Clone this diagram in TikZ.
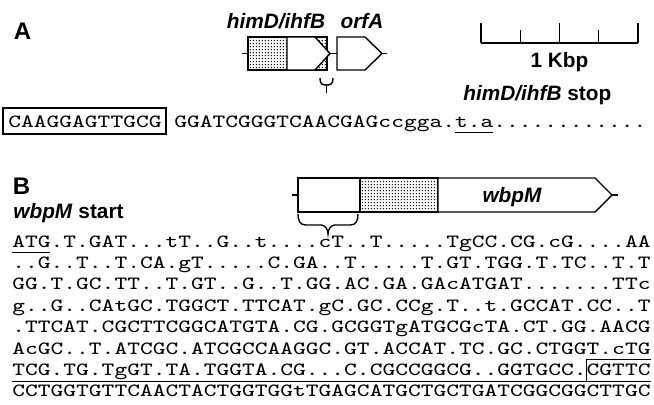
\documentclass[tikz,border=0pt]{standalone}
\usepackage{fontspec}
\setmainfont{Liberation Sans}
\newfontfamily\seqfont[FakeStretch=1.3]{Latin Modern Mono}
\usepackage{tikz}
\usetikzlibrary{patterns.meta}
% width of one sequence character
\newcommand{\cw}{6.3814pt}
\tikzdeclarepattern{
  name=stipple, type=uncolored,
  bottom left={(0pt,0pt)}, top right={(1.6pt,1.6pt)},
  tile size={(1.6pt,1.6pt)},
  code={\pgfpathcircle{\pgfqpoint{0.8pt}{0.8pt}}{0.45pt}\pgfusepath{fill}}
}
\tikzset{
  panel/.style={font=\fontsize{12}{14}\selectfont\bfseries, inner sep=0pt},
  genename/.style={font=\fontsize{10.4}{12}\selectfont\bfseries\itshape, inner sep=0pt},
  barlabel/.style={font=\fontsize{10.4}{12}\selectfont\bfseries, inner sep=0pt},
  seqline/.style={font=\seqfont\fontsize{9.35}{10}\selectfont, inner sep=0pt, anchor=base west},
  gene/.style={draw, line width=0.7pt, fill=white, line join=miter},
  stippled/.style={pattern=stipple, pattern color=black},
  link/.style={line width=0.7pt},
  uline/.style={line width=0.7pt},
  seqbox/.style={line width=0.9pt},
}
\begin{document}
\begin{tikzpicture}[x=0.5pt, y=-0.5pt]
  \useasboundingbox[fill=white] (0,0) rectangle (654,404);

  % --- panel A ---
  \node[panel] (A) at (22.5,31.5) {A};
  \node[genename, anchor=base] (himDlabel) at (276,28) {himD/ihfB};
  \node[genename, anchor=base] (orfAlabel) at (362,28) {orfA};

  \coordinate (Aleft) at (242,53.5);
  \coordinate (himDin) at (248,53.5);
  \coordinate (himDtip) at (330,53.5);
  \coordinate (orfAin) at (337,53.5);
  \coordinate (orfAtip) at (382,53.5);
  \coordinate (Aright) at (387,53.5);

  \fill[stippled] (248,37) rectangle (327,70);
  \draw[gene, fill=none] (248,37) rectangle (327,70);
  \draw[gene] (287,37) -- (315,37) -- (himDtip) -- (315,70) -- (287,70) -- cycle;
  \draw[gene] (337,37) -- (365,37) -- (orfAtip) -- (365,70) -- (337,70) -- cycle;

  \draw[link] (Aleft) -- (himDin);
  \draw[link] (himDtip) -- (orfAin);
  \draw[link] (orfAtip) -- (Aright);

  \draw[link] (320,78) .. controls (320,84) and (322,85) .. (326.5,85)
              .. controls (331,85) and (333,84) .. (333,78);
  \draw[link] (326.5,85) -- (326.5,93);

  % scale bar
  \coordinate (bar0) at (481,43);
  \coordinate (bar4) at (638,43);
  \draw[link] (bar0) -- (bar4);
  \foreach \k/\h in {0/20,1/13,2/20,3/13,4/20}
    \draw[link] ({481+39.25*\k},43) -- ++(0,-\h);
  \node[barlabel, anchor=base] (kbp) at (559.5,67) {1 Kbp};

  \node[barlabel, anchor=base west] (stopA) at (463,100) {\textit{himD/ihfB} stop};

  \node[seqline] (seqA) at (8,127) {CAAGGAGTTGCG GGATCGGGTCAACGAGccgga.t.a............};
  \draw[seqbox] ([xshift=-2.5pt, yshift=-3.5pt]seqA.base west)
    rectangle ([xshift=12*\cw+2.5pt, yshift=9.5pt]seqA.base west);
  \draw[uline] ([xshift=35*\cw, yshift=-2.75pt]seqA.base west)
    -- ([xshift=38*\cw, yshift=-2.75pt]seqA.base west);

  % --- panel B ---
  \node[panel] (B) at (21.5,186) {B};
  \node[barlabel, anchor=base west] (startB) at (13,218) {\textit{wbpM} start};

  \coordinate (Bleft) at (292,195);
  \coordinate (wbpMin) at (298,195);
  \coordinate (wbpMtip) at (612,195);
  \coordinate (Bright) at (618,195);

  \draw[gene] (298,178) rectangle (360,212);
  \fill[stippled] (360,178) rectangle (438,212);
  \draw[gene, fill=none] (360,178) rectangle (438,212);
  \draw[gene] (438,178) -- (595,178) -- (wbpMtip) -- (595,212) -- (438,212) -- cycle;
  \node[genename, anchor=base] (wbpMlabel) at (512,202.5) {wbpM};
  \draw[link] (Bleft) -- (wbpMin);
  \draw[link] (wbpMtip) -- (Bright);

  \draw[link] (298,214) .. controls (298,221) and (300,225) .. (306,225) -- (321,225)
    .. controls (325,225) and (328,229) .. (328,234)
    .. controls (328,229) and (331,225) .. (335,225) -- (350,225)
    .. controls (356,225) and (358,221) .. (358,214);

  % sequence lines
  \node[seqline] (l1) at (12,247.0) {ATG.T.GAT...tT..G..t....cT..T.....TgCC.CG.cG....AA};
  \node[seqline] (l2) at (12,268.4) {..G..T..T.CA.gT.....C.GA..T.....T.GT.TGG.T.TC..T.T};
  \node[seqline] (l3) at (12,289.8) {GG.T.GC.TT..T.GT..G..T.GG.AC.GA.GAcATGAT.......TTc};
  \node[seqline] (l4) at (12,311.2) {g..G..CAtGC.TGGCT.TTCAT.gC.GC.CCg.T..t.GCCAT.CC..T};
  \node[seqline] (l5) at (12,332.6) {.TTCAT.CGCTTCGGCATGTA.CG.GCGGTgATGCGcTA.CT.GG.AACG};
  \node[seqline] (l6) at (12,354.0) {AcGC..T.ATCGC.ATCGCCAAGGC.GT.ACCAT.TC.GC.CTGGT.cTG};
  \node[seqline] (l7) at (12,375.4) {TCG.TG.TgGT.TA.TGGTA.CG...C.CGCCGGCG..GGTGCC.CGTTC};
  \node[seqline] (l8) at (12,396.8) {CCTGGTGTTCAACTACTGGTGGtTGAGCATGCTGCTGATCGGCGGCTTGC};

  \draw[uline] ([yshift=-2.75pt]l1.base west) -- ([xshift=3*\cw, yshift=-2.75pt]l1.base west);
  \coordinate (boxtl) at ([xshift=45*\cw, yshift=-2.75pt]l6.base west);
  \coordinate (boxbl) at ([xshift=45*\cw, yshift=-3pt]l7.base west);
  \draw[uline] (boxtl) -- ([yshift=-2.75pt]l6.base east);
  \draw[uline, line width=0.9pt] ([yshift=-3pt]l7.base west) -- ([yshift=-3pt]l7.base east);
  \draw[uline] (boxtl) -- (boxbl);
\end{tikzpicture}
\end{document}
